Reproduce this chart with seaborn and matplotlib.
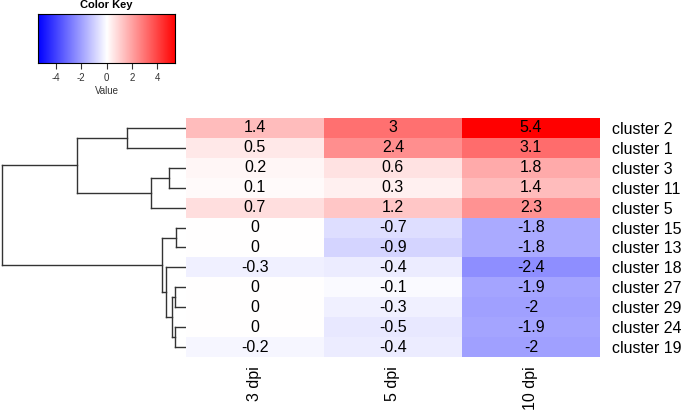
import matplotlib
matplotlib.use("Agg")
import matplotlib.pyplot as plt
import seaborn as sns
import numpy as np
import pandas as pd

plt.rcParams["font.family"] = ["Liberation Sans", "DejaVu Sans"]
plt.rcParams["axes.unicode_minus"] = False

rows = ["cluster 2", "cluster 1", "cluster 3", "cluster 11", "cluster 5",
        "cluster 15", "cluster 13", "cluster 18", "cluster 27", "cluster 29",
        "cluster 24", "cluster 19"]
cols = ["3 dpi", "5 dpi", "10 dpi"]
dpi3 = [1.4, 0.5, 0.2, 0.1, 0.7, 0, 0, -0.3, 0, 0, 0, -0.2]
dpi5 = [3, 2.4, 0.6, 0.3, 1.2, -0.7, -0.9, -0.4, -0.1, -0.3, -0.5, -0.4]
dpi10 = [5.4, 3.1, 1.8, 1.4, 2.3, -1.8, -1.8, -2.4, -1.9, -2, -1.9, -2]

# dendrogram merges: (left, right, height)
merges = {
    "A": ("cluster 2", "cluster 1", 59),
    "B": ("cluster 3", "cluster 11", 17),
    "C": ("B", "cluster 5", 35),
    "D": ("A", "C", 109),
    "E": ("cluster 15", "cluster 13", 10),
    "F": ("cluster 27", "cluster 29", 11),
    "G": ("cluster 24", "cluster 19", 11),
    "H": ("F", "G", 14),
    "I": ("cluster 18", "H", 20),
    "J": ("E", "I", 24),
    "R": ("D", "J", 184),
}

df = pd.DataFrame({"3 dpi": dpi3, "5 dpi": dpi5, "10 dpi": dpi10}, index=rows)

W, H = 685, 412
fig = plt.figure(figsize=(W / 100, H / 100), dpi=100)

def ax_px(l, t, r, b):
    return fig.add_axes([l / W, 1 - b / H, (r - l) / W, (b - t) / H])

vmax = 5.4
cmap = "bwr"

# heatmap
ax = ax_px(186, 118, 600, 357)
annot = df.map(lambda v: f"{v:g}")
sns.heatmap(df, ax=ax, cmap=cmap, vmin=-vmax, vmax=vmax, cbar=False,
            annot=annot, fmt="", annot_kws={"fontsize": 11.5, "color": "black"})
ax.yaxis.tick_right()
ax.set_yticklabels(rows, rotation=0, fontsize=11.5)
ax.set_xticklabels(cols, rotation=90, fontsize=11.5)
ax.tick_params(axis="y", length=0, pad=9)
ax.tick_params(axis="x", length=0, pad=7)
ax.set_xlabel("")
ax.set_ylabel("")

# dendrogram
dax = ax_px(0, 118, 186, 357)
pos = {r: i + 0.5 for i, r in enumerate(rows)}
hgt = {r: 0 for r in rows}

def resolve(n):
    if n in pos:
        return pos[n], hgt[n]
    l, r, h = merges[n]
    yl, hl = resolve(l)
    yr, hr = resolve(r)
    c = "#333333"
    dax.plot([hl, h], [yl, yl], color=c, lw=1)
    dax.plot([hr, h], [yr, yr], color=c, lw=1)
    dax.plot([h, h], [yl, yr], color=c, lw=1)
    pos[n] = (yl + yr) / 2
    hgt[n] = h
    return pos[n], h

resolve("R")
dax.set_xlim(186, 0)
dax.set_ylim(len(rows), 0)
dax.axis("off")

# color key
kax = ax_px(38, 14, 175, 63)
grad = np.linspace(-vmax, vmax, 256)[None, :]
kax.imshow(grad, aspect="auto", cmap=cmap, vmin=-vmax, vmax=vmax,
           extent=[-vmax, vmax, 0, 1])
kax.set_yticks([])
kax.set_xticks([-4, -2, 0, 2, 4])
kax.tick_params(axis="x", labelsize=7, length=4, width=0.8, colors="#333333")
kax.set_xlabel("Value", fontsize=7, labelpad=2, color="#333333")
kax.set_title("Color Key", fontsize=8, fontweight="bold", pad=4)
for s in kax.spines.values():
    s.set_linewidth(0.8)

fig.savefig("out.png", dpi=100)
